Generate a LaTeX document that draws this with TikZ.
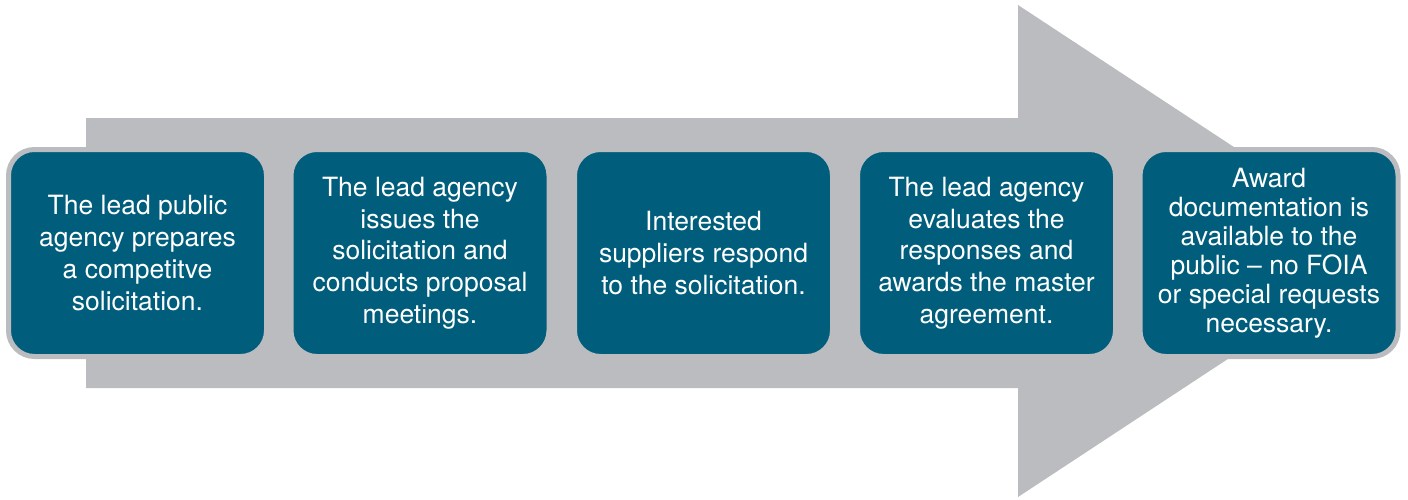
\documentclass[tikz,border=0pt]{standalone}
\usepackage{fontspec}
\setmainfont{TeX Gyre Heros}
\definecolor{stepteal}{RGB}{0,94,124}
\definecolor{arrowgray}{RGB}{187,188,191}

\begin{document}
\begin{tikzpicture}[x=1pt, y=-1pt,
    stepbox/.style={draw=arrowgray, line width=5pt, fill=stepteal,
      rounded corners=26pt, minimum width=258pt, minimum height=207pt,
      text=white, align=center, font=\fontsize{26.5}{31.7}\selectfont}]
    \useasboundingbox (0,0) rectangle (1408,499);
    % ---- the big arrow behind the steps
    \fill[arrowgray] (86,118) -- (1018,118) -- (1018,5) -- (1392,251)
      -- (1018,497) -- (1018,388) -- (86,388) -- cycle;
    % ---- the five steps
    \node[stepbox] (prep) at (137.5,253)
      {The lead public\\agency prepares\\a competitve\\solicitation.};
    \node[stepbox] (issue) at (420,253)
      {The lead agency\\issues the\\solicitation and\\conducts proposal\\meetings.};
    \node[stepbox] (respond) at (703.5,253)
      {Interested\\suppliers respond\\to the solicitation.};
    \node[stepbox] (evaluate) at (986.5,253)
      {The lead agency\\evaluates the\\responses and\\awards the master\\agreement.};
    \node[stepbox, font=\fontsize{26.5}{29}\selectfont] (award) at (1269,253)
      {Award\\documentation is\\available to the\\public -- no FOIA\\or special requests\\necessary.};
  \end{tikzpicture}
\end{document}
